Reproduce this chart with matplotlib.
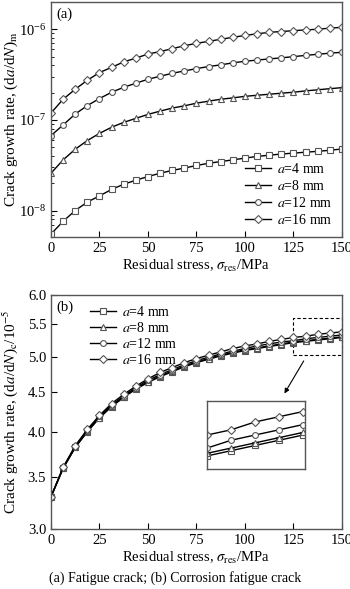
import numpy as np
import matplotlib.pyplot as plt
from matplotlib.patches import Rectangle
from matplotlib.ticker import FixedLocator, FixedFormatter, NullLocator

plt.rcParams['font.family'] = ['Liberation Serif', 'DejaVu Serif']
plt.rcParams['mathtext.fontset'] = 'stix'
plt.rcParams['font.size'] = 10

# residual stress (MPa)
stress = [0, 6.25, 12.5, 18.75, 25, 31.25, 37.5, 43.75, 50, 56.25, 62.5, 68.75, 75,
          81.25, 87.5, 93.75, 100, 106.25, 112.5, 118.75, 125, 131.25, 137.5, 143.75, 150]

labels = ['$\\it{a}$=4 mm', '$\\it{a}$=8 mm', '$\\it{a}$=12 mm', '$\\it{a}$=16 mm']
markers = ['s', '^', 'o', 'D']

# (a) fatigue crack growth rate (da/dN)m
fat_a4 = [5.5e-9, 7.6e-9, 1.0e-8, 1.24e-8, 1.45e-8, 1.71e-8, 1.95e-8, 2.16e-8, 2.37e-8,
          2.58e-8, 2.77e-8, 2.94e-8, 3.14e-8, 3.32e-8, 3.47e-8, 3.62e-8, 3.79e-8, 3.95e-8,
          4.08e-8, 4.2e-8, 4.3e-8, 4.4e-8, 4.5e-8, 4.62e-8, 4.78e-8]
fat_a8 = [2.58e-8, 3.62e-8, 4.75e-8, 5.92e-8, 7.1e-8, 8.3e-8, 9.4e-8, 1.04e-7, 1.15e-7,
          1.25e-7, 1.35e-7, 1.43e-7, 1.53e-7, 1.61e-7, 1.69e-7, 1.75e-7, 1.82e-7, 1.87e-7,
          1.92e-7, 1.97e-7, 2.02e-7, 2.09e-7, 2.15e-7, 2.21e-7, 2.27e-7]
fat_a12 = [6.7e-8, 8.8e-8, 1.16e-7, 1.44e-7, 1.72e-7, 2.02e-7, 2.29e-7, 2.54e-7, 2.81e-7,
           3.03e-7, 3.27e-7, 3.47e-7, 3.68e-7, 3.88e-7, 4.05e-7, 4.26e-7, 4.44e-7, 4.57e-7,
           4.71e-7, 4.84e-7, 4.99e-7, 5.15e-7, 5.3e-7, 5.45e-7, 5.57e-7]
fat_a16 = [1.19e-7, 1.69e-7, 2.18e-7, 2.74e-7, 3.33e-7, 3.8e-7, 4.37e-7, 4.8e-7, 5.34e-7,
           5.67e-7, 6.11e-7, 6.58e-7, 7.0e-7, 7.36e-7, 7.76e-7, 8.16e-7, 8.55e-7, 8.92e-7,
           9.25e-7, 9.45e-7, 9.65e-7, 9.85e-7, 1.0e-6, 1.03e-6, 1.05e-6]

# (b) corrosion fatigue crack growth rate (da/dN)c / 1e-5
cor_a4 = [3.30, 3.59, 3.82, 4.00, 4.17, 4.31, 4.43, 4.54, 4.63, 4.71, 4.78, 4.85, 4.91,
          4.96, 5.01, 5.05, 5.09, 5.12, 5.15, 5.18, 5.21, 5.23, 5.25, 5.27, 5.29]
cor_a8 = [3.30, 3.59, 3.82, 4.01, 4.17, 4.32, 4.44, 4.55, 4.64, 4.72, 4.79, 4.86, 4.92,
          4.97, 5.02, 5.06, 5.10, 5.13, 5.16, 5.19, 5.22, 5.24, 5.26, 5.28, 5.30]
cor_a12 = [3.30, 3.60, 3.83, 4.02, 4.19, 4.33, 4.45, 4.56, 4.66, 4.74, 4.81, 4.88, 4.94,
           4.99, 5.04, 5.08, 5.12, 5.16, 5.19, 5.22, 5.24, 5.27, 5.29, 5.31, 5.33]
cor_a16 = [3.30, 3.60, 3.84, 4.03, 4.20, 4.35, 4.47, 4.58, 4.68, 4.77, 4.84, 4.91, 4.97,
           5.02, 5.07, 5.12, 5.16, 5.19, 5.23, 5.26, 5.29, 5.31, 5.34, 5.36, 5.38]

fatigue = [fat_a4, fat_a8, fat_a12, fat_a16]
corrosion = [cor_a4, cor_a8, cor_a12, cor_a16]

xticks = [0, 25, 50, 75, 100, 125, 150]
yticks_b = [3.0, 3.5, 4.0, 4.5, 5.0, 5.5, 6.0]


def draw(ax, series, with_labels=True):
    for vals, m, lab in zip(series, markers, labels):
        ax.plot(stress, vals, marker=m, label=lab if with_labels else None,
                color='black', lw=1.0, ms=3.6 if m == 'D' else 4.2,
                mfc='white', mec='#555555', mew=0.8)


fig = plt.figure(figsize=(3.5, 5.89), dpi=100)
ax1 = fig.add_axes([0.1457, 0.5976, 0.8314, 0.399])
ax2 = fig.add_axes([0.1457, 0.1019, 0.8314, 0.3973])

# ---- (a) ----
draw(ax1, fatigue)
ax1.set_yscale('log')
ax1.set_xlim(0, 150)
ax1.set_ylim(5.1e-9, 2.0e-6)
ax1.set_xticks(xticks)
ax1.set_xlabel('Residual stress, $\\sigma_{\\rm res}$/MPa', labelpad=2, fontsize=10.5)
ax1.set_ylabel('Crack growth rate, (d$\\it{a}$/d$\\it{N}$)$_{\\rm m}$', fontsize=11)
ax1.yaxis.set_label_coords(-0.108, 0.5)
ax1.text(0.02, 0.975, '(a)', transform=ax1.transAxes, va='top', ha='left', fontsize=10.5)
ax1.legend(loc='lower right', frameon=False, handlelength=1.9, handletextpad=0.4,
           labelspacing=0.22, borderaxespad=0.3, bbox_to_anchor=(1.0, 0.0))

# ---- (b) ----
draw(ax2, corrosion)
ax2.set_yscale('log')
ax2.set_xlim(0, 150)
ax2.set_ylim(3.0, 6.0)
ax2.yaxis.set_major_locator(FixedLocator(yticks_b))
ax2.yaxis.set_major_formatter(FixedFormatter([f'{v:.1f}' for v in yticks_b]))
ax2.yaxis.set_minor_locator(NullLocator())
ax2.set_xticks(xticks)
ax2.set_xlabel('Residual stress, $\\sigma_{\\rm res}$/MPa', labelpad=2, fontsize=10.5)
ax2.set_ylabel('Crack growth rate, (d$\\it{a}$/d$\\it{N}$)$_{\\rm c}$/10$^{-5}$', fontsize=11)
ax2.yaxis.set_label_coords(-0.108, 0.5)
ax2.text(0.02, 0.975, '(b)', transform=ax2.transAxes, va='top', ha='left', fontsize=10.5)
ax2.legend(loc='upper left', frameon=False, handlelength=1.9, handletextpad=0.4,
           labelspacing=0.15, bbox_to_anchor=(0.1, 1.0), borderaxespad=0.3)

# dashed zoom box and arrow
ax2.add_patch(Rectangle((125, 5.02), 25, 0.58, fill=False, ls=(0, (3, 2)),
                        lw=0.8, ec='black', clip_on=False))
ax2.annotate('', xy=(119.6, 4.45), xytext=(131, 4.97),
             arrowprops=dict(arrowstyle='-|>', color='black', lw=0.8, mutation_scale=7))

# inset
axin = fig.add_axes([0.5914, 0.2037, 0.28, 0.1154])
draw(axin, corrosion, with_labels=False)
axin.set_xlim(125, 150.5)
axin.set_ylim(5.16, 5.42)
axin.set_xticks([])
axin.set_yticks([])

for ax in (ax1, ax2, axin):
    for s in ax.spines.values():
        s.set_color('#555555')
        s.set_linewidth(1.0)
for ax in (ax1, ax2):
    ax.tick_params(direction='in', which='both', color='black', labelsize=10.5)
    ax.tick_params(which='major', length=4)
    ax.tick_params(which='minor', length=2.5)

fig.text(0.5, 0.018, '(a) Fatigue crack; (b) Corrosion fatigue crack',
         ha='center', va='center', fontsize=10)

fig.savefig('out.png', dpi=100)
